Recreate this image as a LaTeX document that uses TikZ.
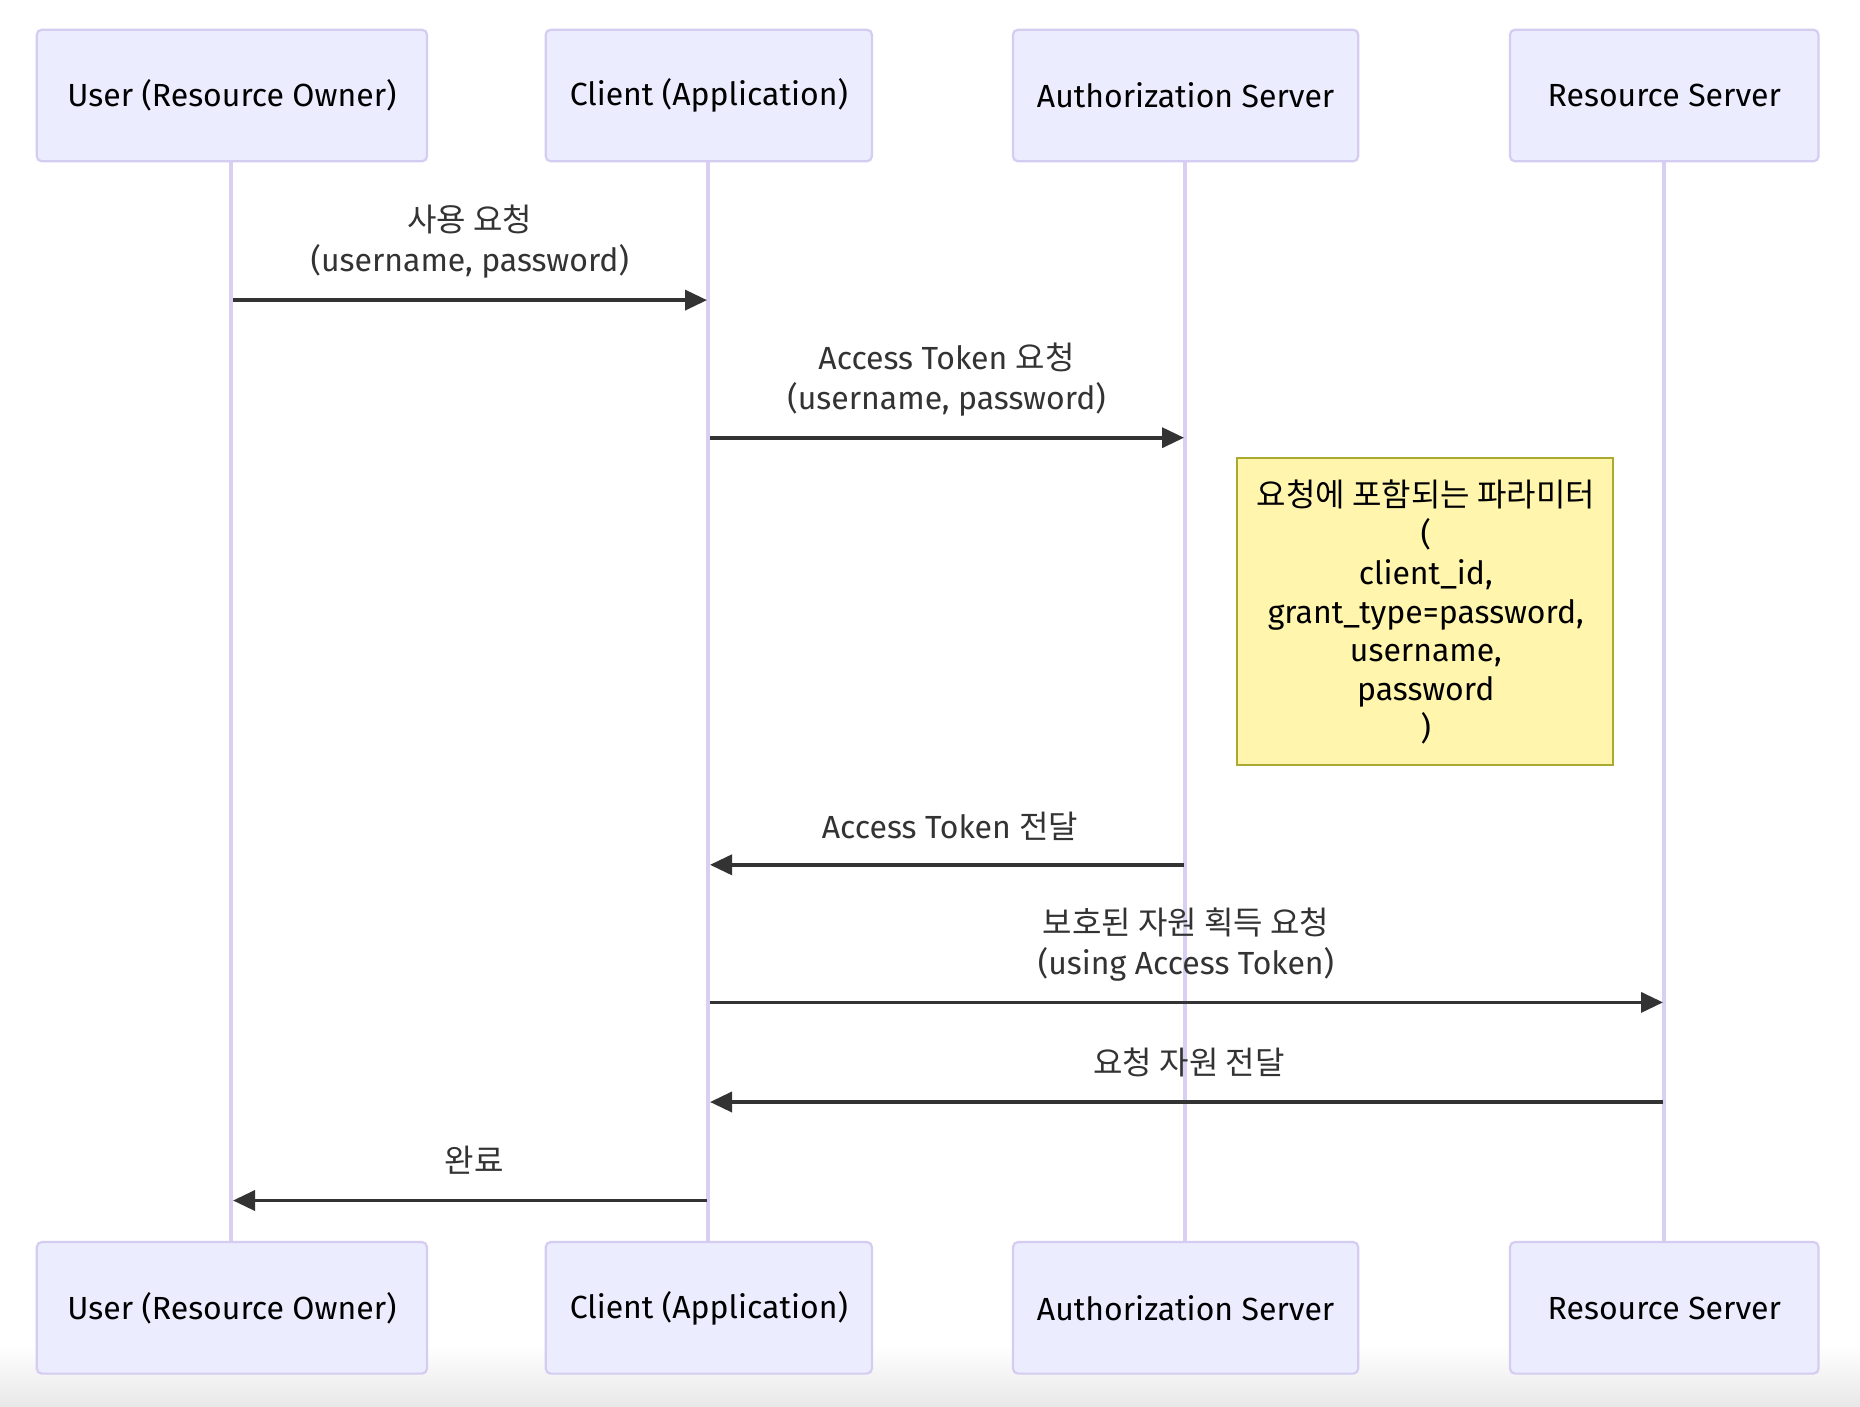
\documentclass[tikz,border=0pt]{standalone}
\usepackage{fontspec}
\setmainfont{Fira Sans}
\newfontfamily\kr{Noto Sans CJK KR}
\usetikzlibrary{arrows.meta}
\definecolor{actfill}{HTML}{ECECFF}
\definecolor{actdraw}{HTML}{D5CCF2}
\definecolor{lifecol}{HTML}{D9CFF3}
\definecolor{msgcol}{HTML}{333333}
\definecolor{notefill}{HTML}{FFF5AD}
\definecolor{notedraw}{HTML}{AAAA33}
\tikzset{
  actor/.style={draw=actdraw, fill=actfill, line width=2.2pt, rounded corners=5pt},
  actlabel/.style={text=black, font=\fontsize{32}{38}\selectfont},
  lifeline/.style={draw=lifecol, line width=4pt},
  msg/.style={draw=msgcol, line width=3.6pt, -{Triangle[length=22pt,width=20pt]}},
  msglabel/.style={text=msgcol, align=center, font=\fontsize{32}{40}\selectfont},
  notebox/.style={draw=notedraw, fill=notefill, line width=2.2pt},
  notelabel/.style={text=black, align=center, font=\fontsize{32}{38.7}\selectfont}
}
\begin{document}
\begin{tikzpicture}[x=1pt,y=-1pt]
\useasboundingbox (0,0) rectangle (1860,1406);
\fill[white] (0,0) rectangle (1860,1406);
\shade[top color=white, bottom color=black!9] (0,1345) rectangle (1860,1406);
% lifelines
\coordinate (uT) at (231.3,161);
\coordinate (uB) at (231.3,1242);
\coordinate (cT) at (708.2,161);
\coordinate (cB) at (708.2,1242);
\coordinate (aT) at (1185,161);
\coordinate (aB) at (1185,1242);
\coordinate (rT) at (1664.3,161);
\coordinate (rB) at (1664.3,1242);
\draw[lifeline] (uT) -- (uB);
\draw[lifeline] (cT) -- (cB);
\draw[lifeline] (aT) -- (aB);
\draw[lifeline] (rT) -- (rB);
% actor boxes top
\draw[actor] (36.8,29.7) rectangle (427,161.3);
\draw[actor] (545.7,29.7) rectangle (871.9,161.3);
\draw[actor] (1013,29.7) rectangle (1358.2,161.3);
\draw[actor] (1510,29.7) rectangle (1818.5,161.3);
\node[actlabel] (u1) at (231.9,95) {User (Resource Owner)};
\node[actlabel] (c1) at (708.8,95) {Client (Application)};
\node[actlabel] (a1) at (1185.6,95) {Authorization Server};
\node[actlabel] (r1) at (1664.3,95) {Resource Server};
% actor boxes bottom
\draw[actor] (36.8,1242) rectangle (427,1373.6);
\draw[actor] (545.7,1242) rectangle (871.9,1373.6);
\draw[actor] (1013,1242) rectangle (1358.2,1373.6);
\draw[actor] (1510,1242) rectangle (1818.5,1373.6);
\node[actlabel] (u2) at (231.9,1308.4) {User (Resource Owner)};
\node[actlabel] (c2) at (708.8,1308.4) {Client (Application)};
\node[actlabel] (a2) at (1185.6,1308.4) {Authorization Server};
\node[actlabel] (r2) at (1664.3,1308.4) {Resource Server};
% message end points
\coordinate (m1s) at (233,300.1);   \coordinate (m1e) at (707,300.1);
\coordinate (m2s) at (710,437.7);   \coordinate (m2e) at (1184,437.7);
\coordinate (m3s) at (1184,864.8);  \coordinate (m3e) at (710,864.8);
\coordinate (m4s) at (710,1002.4);  \coordinate (m4e) at (1663,1002.4);
\coordinate (m5s) at (1663,1102);   \coordinate (m5e) at (710,1102);
\coordinate (m6s) at (707,1200.5);  \coordinate (m6e) at (233,1200.5);
\draw[msg] (m1s) -- (m1e);
\draw[msg] (m2s) -- (m2e);
\draw[msg] (m3s) -- (m3e);
\draw[msg] (m4s) -- (m4e);
\draw[msg] (m5s) -- (m5e);
\draw[msg] (m6s) -- (m6e);
\node[msglabel] (l1) at (469.8,242) {{\kr 사용 요청}\\(username, password)};
\node[msglabel] (l2) at (946.6,379.6) {Access Token {\kr 요청}\\(username, password)};
\node[msglabel] (l3) at (950,826.8) {Access Token {\kr 전달}};
\node[msglabel] (l4) at (1186,944.8) {{\kr 보호된 자원 획득 요청}\\(using Access Token)};
\node[msglabel] (l5) at (1189,1062.9) {{\kr 요청 자원 전달}};
\node[msglabel] (l6) at (474,1160.1) {{\kr 완료}};
% note
\draw[notebox] (1237.2,457.9) rectangle (1613.3,765.1);
\node[notelabel] (n) at (1425.8,612) {{\kr 요청에 포함되는 파라미터}\\(\\client\_id,\\grant\_type=password,\\username,\\password\\)};
\end{tikzpicture}
\end{document}
